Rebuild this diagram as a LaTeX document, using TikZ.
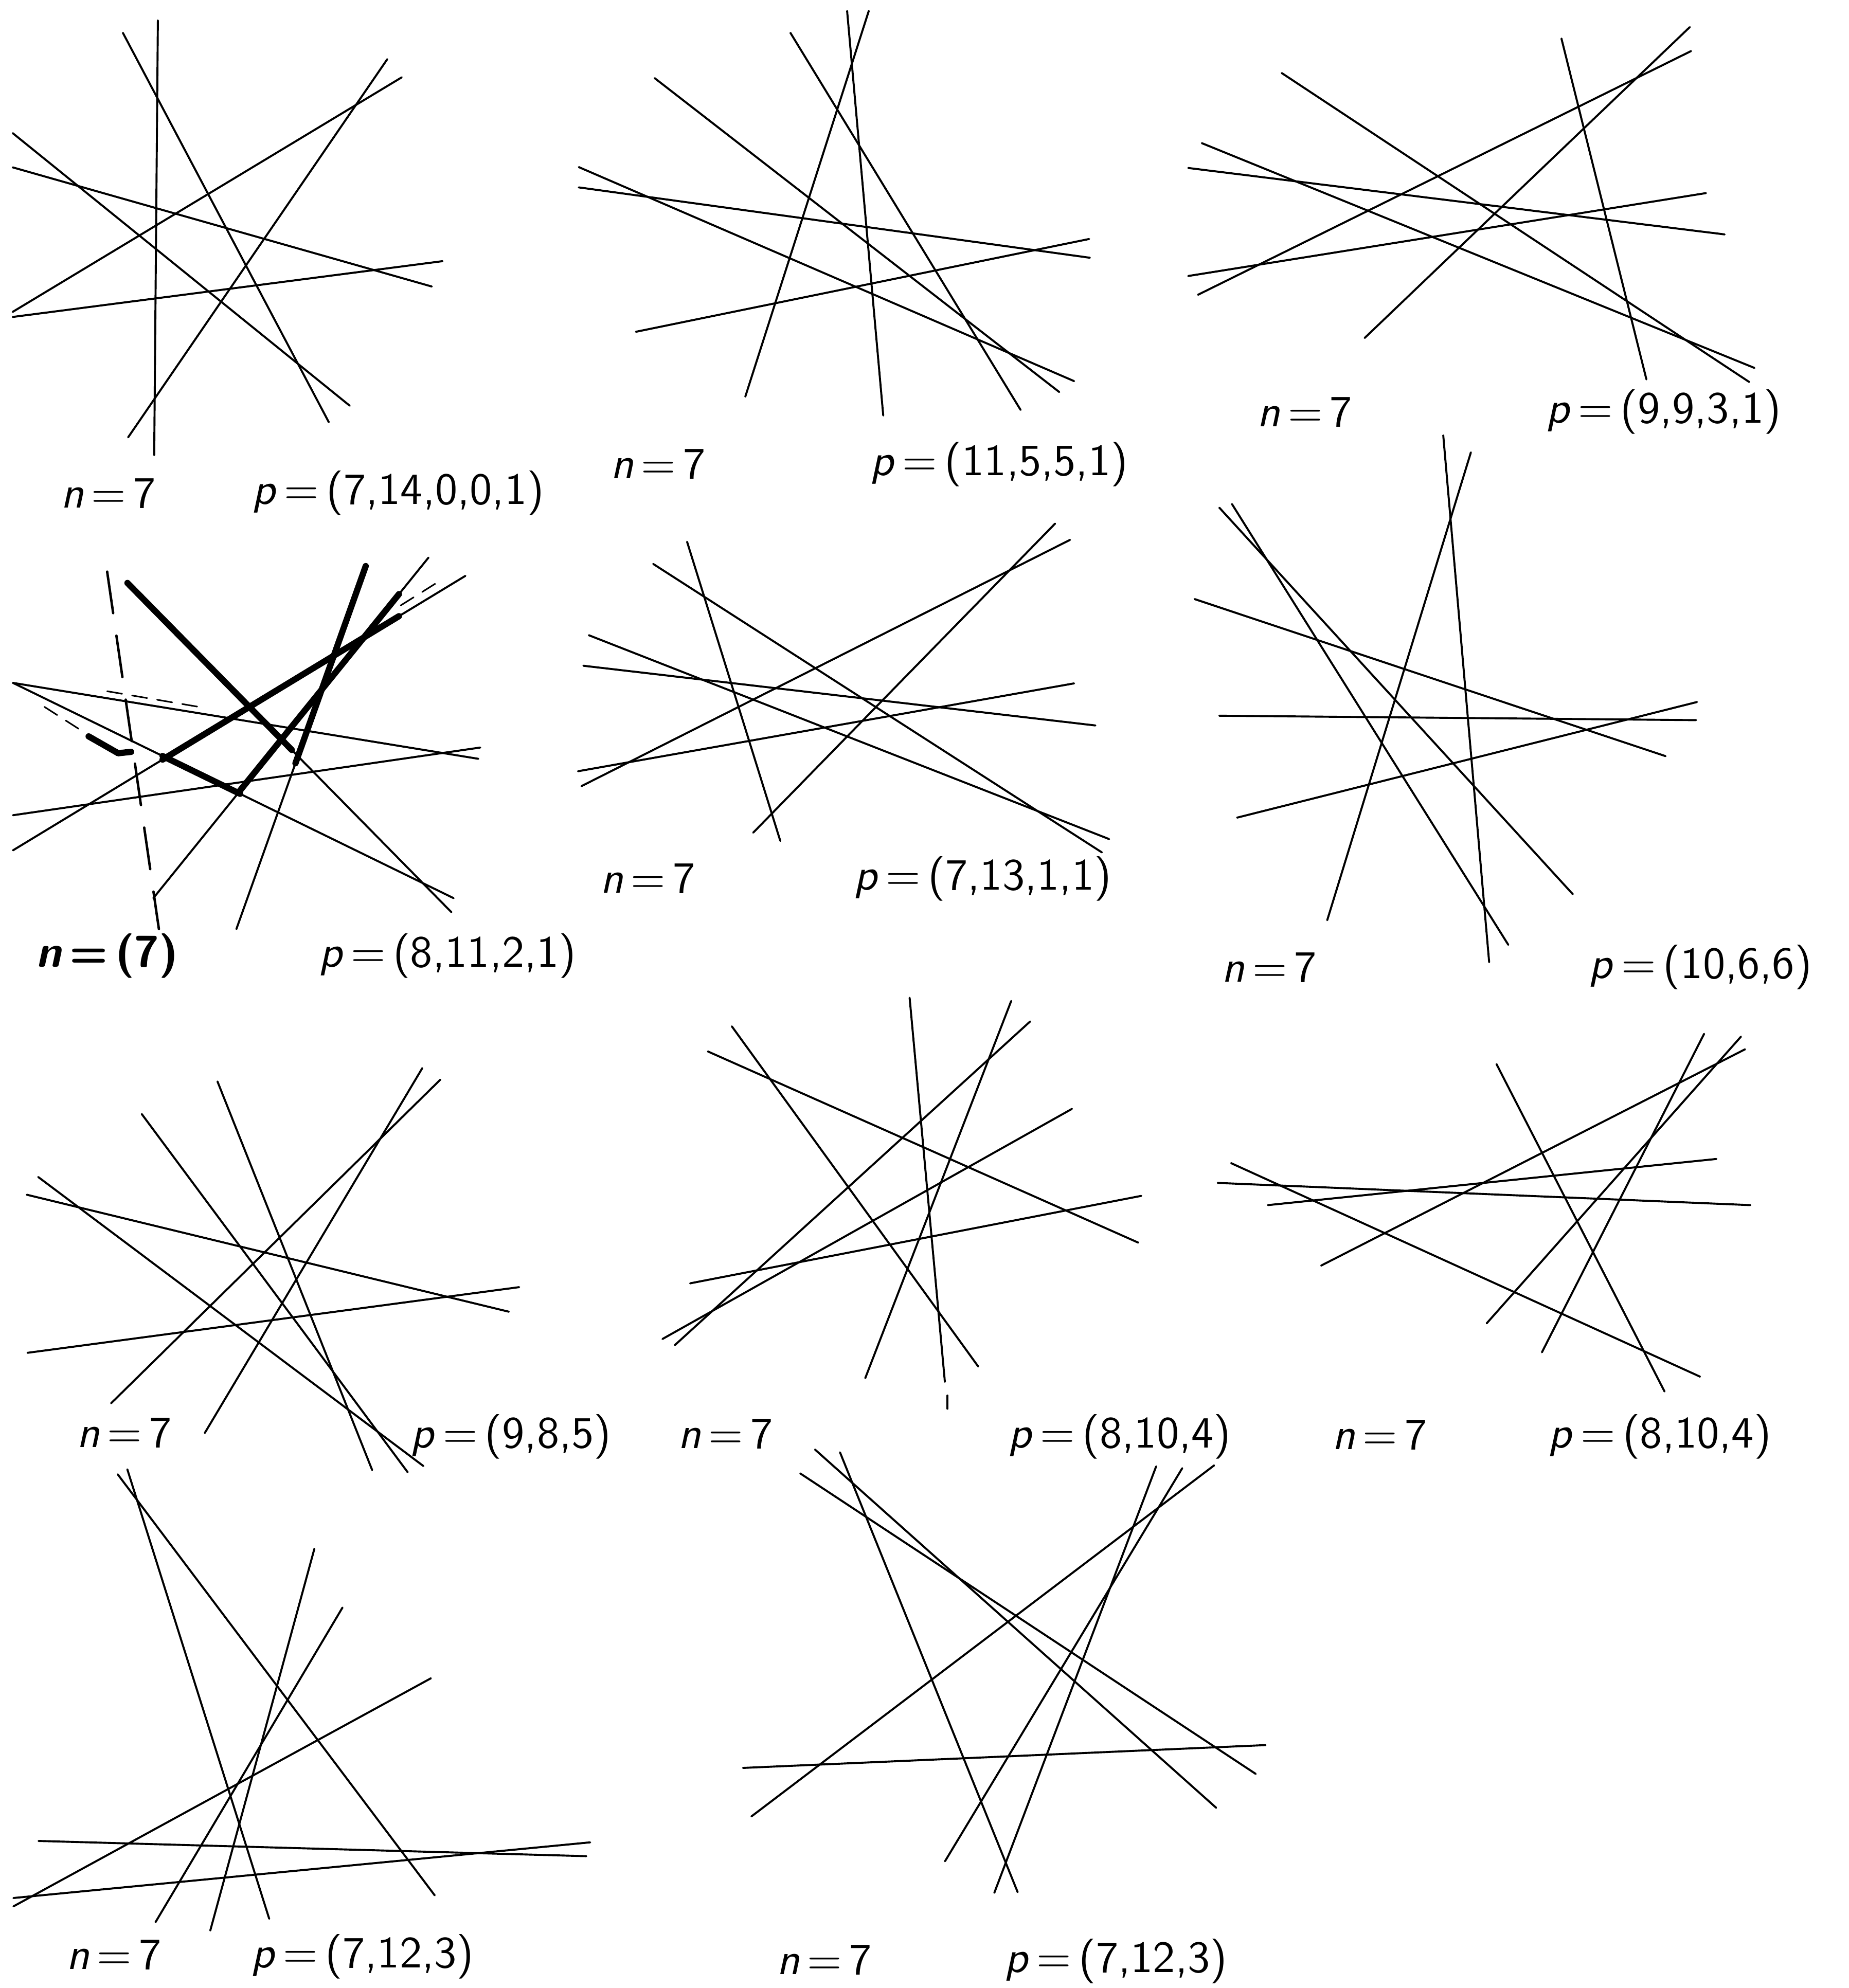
\documentclass[tikz,border=0pt]{standalone}
\usepackage{tikz}

\newcommand{\nval}[1]{\textit{n}\,=\,#1}
\newcommand{\pval}[1]{\textit{p}\,=\,(#1)}

\begin{document}
\begin{tikzpicture}[line join=round,line cap=round,
  ln/.style={line width=0.45pt},
  hand/.style={line width=1.4pt},
  dashln/.style={line width=0.55pt,dash pattern=on 3.3mm off 1.8mm},
  faint/.style={line width=0.35pt,dash pattern=on 1.2mm off 0.8mm},
  lab/.style={font=\sffamily\fontsize{10}{12}\selectfont,inner sep=0pt}]
  \useasboundingbox (0,0) rectangle (14.58,-15.68);

  \draw[ln] (1.245,-0.161) -- (1.216,-3.590);
  \draw[ln] (0.969,-0.259) -- (2.593,-3.330);
  \draw[ln] (0.100,-1.050) -- (2.758,-3.200);
  \draw[ln] (0.100,-1.320) -- (3.405,-2.260);
  \draw[ln] (0.100,-2.460) -- (3.168,-0.610);
  \draw[ln] (0.100,-2.500) -- (3.490,-2.060);
  \draw[ln] (1.010,-3.450) -- (3.054,-0.467);
  \node[lab] (n1) at (0.855,-3.89) {\nval{7}};
  \node[lab] (p1) at (3.14,-3.89) {\pval{7,14,0,0,1}};

  \draw[ln] (6.680,-0.086) -- (6.965,-3.277);
  \draw[ln] (6.851,-0.086) -- (5.877,-3.129);
  \draw[ln] (6.233,-0.259) -- (8.048,-3.233);
  \draw[ln] (5.162,-0.616) -- (8.353,-3.092);
  \draw[ln] (4.564,-1.318) -- (8.470,-3.006);
  \draw[ln] (4.564,-1.478) -- (8.595,-2.033);
  \draw[ln] (5.014,-2.617) -- (8.589,-1.885);
  \node[lab] (n2) at (5.19,-3.66) {\nval{7}};
  \node[lab] (p2) at (7.88,-3.66) {\pval{11,5,5,1}};

  \draw[ln] (12.313,-0.304) -- (12.983,-2.992);
  \draw[ln] (10.761,-2.666) -- (13.325,-0.214);
  \draw[ln] (9.447,-2.325) -- (13.335,-0.403);
  \draw[ln] (10.107,-0.576) -- (13.794,-3.013);
  \draw[ln] (9.477,-1.129) -- (13.835,-2.902);
  \draw[ln] (9.370,-1.325) -- (13.600,-1.849);
  \draw[ln] (9.370,-2.177) -- (13.453,-1.523);
  \node[lab] (n3) at (10.29,-3.25) {\nval{7}};
  \node[lab] (p3) at (13.12,-3.25) {\pval{9,9,3,1}};

  \draw[dashln] (0.845,-4.509) -- (1.253,-7.328);
  \draw[ln] (1.005,-4.598) -- (3.560,-7.195);
  \draw[ln] (2.884,-4.465) -- (1.864,-7.328);
  \draw[ln] (3.379,-4.398) -- (1.209,-7.084);
  \draw[ln] (0.102,-6.707) -- (3.670,-4.542);
  \draw[ln] (0.102,-5.386) -- (3.772,-5.985);
  \draw[ln] (0.102,-5.386) -- (3.577,-7.084);
  \draw[ln] (0.102,-6.430) -- (3.787,-5.896);
  \draw[hand] (1.005,-4.598) -- (2.301,-5.915);
  \draw[hand] (2.884,-4.465) -- (2.330,-6.020);
  \draw[hand] (3.146,-4.686) -- (1.893,-6.235);
  \draw[hand] (1.282,-5.991) -- (3.146,-4.860);
  \draw[hand] (1.282,-5.963) -- (1.893,-6.261);
  \draw[hand] (0.699,-5.808) -- (0.932,-5.941) -- (1.034,-5.930);
  \draw[faint] (0.845,-5.452) -- (1.631,-5.586);
  \draw[faint] (0.350,-5.575) -- (0.626,-5.752);
  \draw[faint] (3.160,-4.775) -- (3.496,-4.564);
  \node[lab,font=\sffamily\bfseries\fontsize{10}{12}\selectfont] (n4) at (0.845,-7.54) {\nval{(7)}};
  \node[lab] (p4) at (3.53,-7.54) {\pval{8,11,2,1}};

  \draw[ln] (5.418,-4.273) -- (6.153,-6.632);
  \draw[ln] (5.151,-4.448) -- (8.689,-6.723);
  \draw[ln] (4.643,-5.010) -- (8.746,-6.618);
  \draw[ln] (4.601,-5.251) -- (8.638,-5.722);
  \draw[ln] (4.558,-6.083) -- (8.470,-5.390);
  \draw[ln] (4.586,-6.200) -- (8.438,-4.258);
  \draw[ln] (5.940,-6.567) -- (8.320,-4.130);
  \node[lab] (n5) at (5.11,-6.93) {\nval{7}};
  \node[lab] (p5) at (7.75,-6.93) {\pval{7,13,1,1}};

  \draw[ln] (11.381,-3.434) -- (11.743,-7.589);
  \draw[ln] (11.599,-3.568) -- (10.466,-7.258);
  \draw[ln] (9.615,-4.004) -- (12.403,-7.053);
  \draw[ln] (9.715,-3.976) -- (11.894,-7.452);
  \draw[ln] (9.420,-4.725) -- (13.134,-5.964);
  \draw[ln] (9.615,-5.645) -- (13.375,-5.680);
  \draw[ln] (9.755,-6.449) -- (13.382,-5.537);
  \node[lab] (n6) at (10.01,-7.63) {\nval{7}};
  \node[lab] (p6) at (13.41,-7.63) {\pval{10,6,6}};

  \draw[ln] (0.301,-9.283) -- (3.339,-11.563);
  \draw[ln] (1.118,-8.787) -- (3.215,-11.612);
  \draw[ln] (1.715,-8.530) -- (2.935,-11.595);
  \draw[ln] (0.211,-9.423) -- (4.013,-10.346);
  \draw[ln] (0.217,-10.670) -- (4.094,-10.152);
  \draw[ln] (0.876,-11.068) -- (3.473,-8.515);
  \draw[ln] (1.615,-11.302) -- (3.330,-8.425);
  \node[lab] (n7) at (0.98,-11.30) {\nval{7}};
  \node[lab] (p7) at (4.03,-11.33) {\pval{9,8,5}};

  \draw[ln] (7.173,-7.870) -- (7.451,-10.899);
  \draw[ln] (7.472,-11.007) -- (7.472,-11.111);
  \draw[ln] (7.974,-7.895) -- (6.823,-10.870);
  \draw[ln] (8.124,-8.056) -- (5.322,-10.609);
  \draw[ln] (5.771,-8.095) -- (7.714,-10.778);
  \draw[ln] (5.582,-8.293) -- (8.976,-9.801);
  \draw[ln] (8.453,-8.746) -- (5.224,-10.561);
  \draw[ln] (5.442,-10.122) -- (9.000,-9.432);
  \node[lab] (n8) at (5.72,-11.31) {\nval{7}};
  \node[lab] (p8) at (8.83,-11.33) {\pval{8,10,4}};

  \draw[ln] (11.801,-8.393) -- (13.126,-10.975);
  \draw[ln] (13.438,-8.154) -- (12.159,-10.666);
  \draw[ln] (13.729,-8.176) -- (11.723,-10.438);
  \draw[ln] (13.761,-8.276) -- (10.418,-9.982);
  \draw[ln] (9.708,-9.174) -- (13.406,-10.858);
  \draw[ln] (9.602,-9.330) -- (13.803,-9.505);
  \draw[ln] (9.998,-9.505) -- (13.535,-9.141);
  \node[lab] (n9) at (10.88,-11.32) {\nval{7}};
  \node[lab] (p9) at (13.09,-11.33) {\pval{8,10,4}};

  \draw[ln] (0.928,-11.628) -- (3.428,-14.949);
  \draw[ln] (1.004,-11.589) -- (2.123,-15.134);
  \draw[ln] (2.479,-12.216) -- (1.658,-15.227);
  \draw[ln] (2.701,-12.679) -- (1.226,-15.161);
  \draw[ln] (3.398,-13.237) -- (0.106,-15.036);
  \draw[ln] (0.304,-14.520) -- (4.624,-14.640);
  \draw[ln] (0.106,-14.970) -- (4.654,-14.531);
  \node[lab] (n10) at (0.90,-15.42) {\nval{7}};
  \node[lab] (p10) at (2.86,-15.43) {\pval{7,12,3}};

  \draw[ln] (6.427,-11.433) -- (9.590,-14.258);
  \draw[ln] (6.310,-11.621) -- (9.902,-13.991);
  \draw[ln] (6.624,-11.455) -- (8.025,-14.924);
  \draw[ln] (9.117,-11.566) -- (7.841,-14.929);
  \draw[ln] (9.323,-11.580) -- (7.452,-14.680);
  \draw[ln] (9.574,-11.558) -- (5.925,-14.327);
  \draw[ln] (5.859,-13.944) -- (9.980,-13.764);
  \node[lab] (n11) at (6.50,-15.46) {\nval{7}};
  \node[lab] (p11) at (8.80,-15.47) {\pval{7,12,3}};
\end{tikzpicture}
\end{document}
